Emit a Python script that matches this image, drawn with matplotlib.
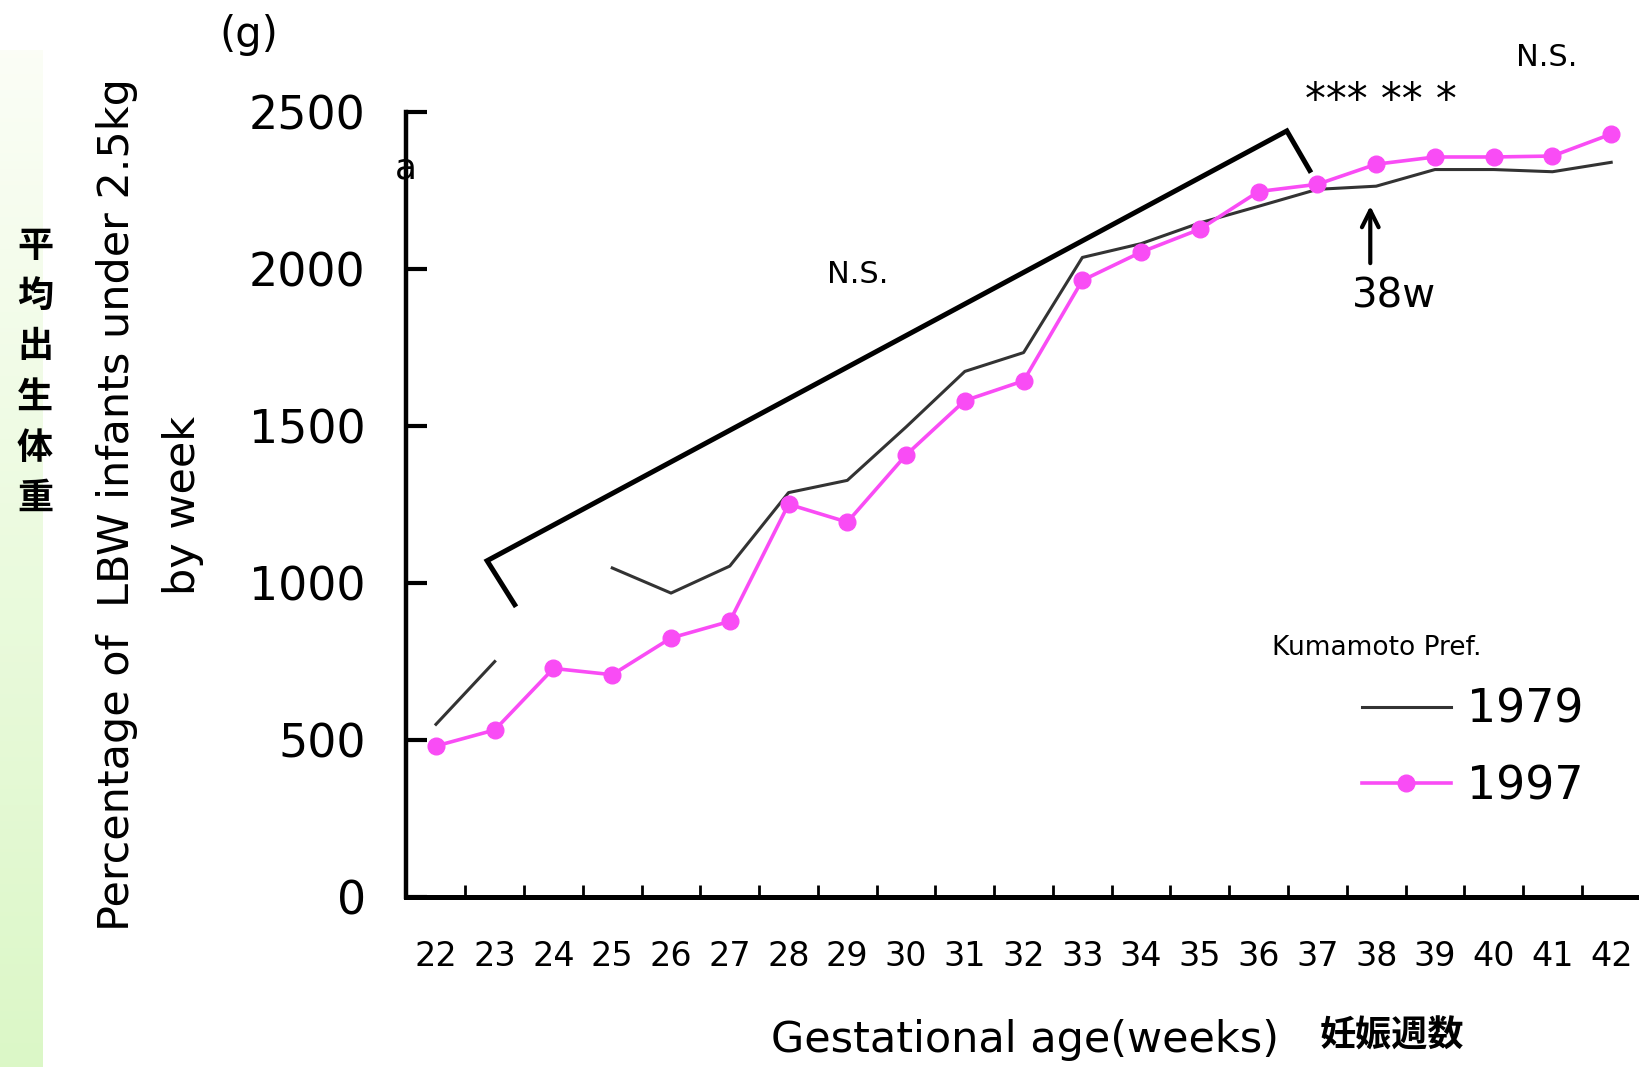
import matplotlib
matplotlib.use('Agg')
import matplotlib.pyplot as plt
import numpy as np

plt.rcParams['font.family'] = ['DejaVu Sans', 'Noto Sans CJK JP']

# data (grams, by gestational week)
weeks = list(range(22, 43))
w1979 = [550, 750, np.nan, 1048, 968, 1054, 1288, 1327, 1497, 1674, 1734,
         2037, 2081, 2147, 2200, 2254, 2264, 2317, 2317, 2310, 2340]
w1997 = [481, 532, 728, 708, 825, 878, 1251, 1194, 1408, 1581, 1644,
         1964, 2054, 2127, 2247, 2270, 2334, 2357, 2357, 2360, 2430]
bracket_x = [23.34, 22.87, 36.48, 36.87]
bracket_y = [931, 1071, 2440, 2314]
yticks = [0, 500, 1000, 1500, 2000, 2500]
side_label = '平均出生体重'

narrow = ['Liberation Sans Narrow', 'DejaVu Sans']
cjk = ['Noto Sans CJK JP', 'DejaVu Sans']

fig = plt.figure(figsize=(16.4, 10.67), dpi=100)

# green strip on the left
strip = fig.add_axes([0, 0, 43/1640, 1 - 50/1067])
grad = np.linspace(0, 1, 256).reshape(-1, 1)
c_top = np.array([0.985, 0.995, 0.965])
c_bot = np.array([0.86, 0.97, 0.78])
img = c_bot + (c_top - c_bot) * grad
strip.imshow(img[:, None, :].repeat(2, axis=1), aspect='auto', origin='lower',
             extent=[0, 1, 0, 1])
strip.axis('off')

ax = fig.add_axes([406/1640, 1 - 897/1067, 1 - 406/1640, 897/1067])
ax.set_xlim(21.49, 42.49)
ax.set_ylim(0, 2857)

ax.plot(weeks, w1979, color='#333333', lw=2.2, label='1979')
ax.plot(weeks, w1997, color='#f94cf5', lw=2.6, marker='o', ms=12,
        label='1997')
ax.plot(bracket_x, bracket_y, color='black', lw=3.6, solid_joinstyle='miter')

for s in ['top', 'right']:
    ax.spines[s].set_visible(False)
ax.spines['left'].set_linewidth(3.2)
ax.spines['bottom'].set_linewidth(3.6)
ax.spines['left'].set_bounds(0, 2500)

ax.set_yticks(yticks)
ax.set_yticklabels([str(v) for v in yticks], fontsize=33)
ax.tick_params(axis='y', direction='in', length=15, width=3, pad=29)

ax.set_xticks(np.arange(22.5, 42, 1))
ax.set_xticklabels([])
ax.tick_params(axis='x', which='major', direction='in', length=9, width=2)
ax.set_xticks(weeks, minor=True)
ax.set_xticklabels([str(w) for w in weeks], minor=True, fontsize=24,
                   family=narrow)
ax.tick_params(axis='x', which='minor', length=0, pad=31)

# annotations
ax.text(29.18, 1984, 'N.S.', fontsize=22, ha='center', va='center',
        family=narrow)
ax.text(40.9, 2673, 'N.S.', fontsize=22, ha='center', va='center',
        family=narrow)
ax.text(38.08, 2535, '*** ** *', fontsize=30, ha='center', va='center')
ax.annotate('', xy=(37.9, 2210), xytext=(37.9, 2010),
            arrowprops=dict(arrowstyle='->', lw=3, color='black',
                            mutation_scale=30))
ax.text(38.3, 1914, '38w', fontsize=29, ha='center', va='center')
ax.text(21.49, 2320, 'a', fontsize=26, ha='center', va='center')

leg = ax.legend(loc='upper left', bbox_to_anchor=(0.741, 0.279),
                frameon=False, fontsize=33, handlelength=1.95,
                handletextpad=0.35, labelspacing=0.68)
fig.text(1377/1640, 1 - 648/1067, 'Kumamoto Pref.', fontsize=19, ha='center',
         va='center')

# outer texts
fig.text(249/1640, 1 - 35/1067, '(g)', fontsize=30, ha='center', va='center')
fig.text(117/1640, 1 - 505/1067, 'Percentage of  LBW infants under 2.5kg',
         rotation=90, fontsize=31, ha='center', va='center', family=narrow)
fig.text(183/1640, 1 - 505/1067, 'by week', rotation=90, fontsize=31,
         ha='center', va='center', family=narrow)
for i, ch in enumerate(side_label):
    fig.text(35/1640, 1 - (246 + 50.5*i)/1067, ch, fontsize=26, ha='center',
             va='center', family=cjk, weight='bold')
fig.text(1025/1640, 1 - 1040/1067, 'Gestational age(weeks)', fontsize=31,
         ha='center', va='center', family=narrow)
fig.text(1392/1640, 1 - 1036/1067, '妊娠週数', fontsize=26, ha='center',
         va='center', family=cjk, weight='bold')

fig.savefig('out.png', dpi=100)
